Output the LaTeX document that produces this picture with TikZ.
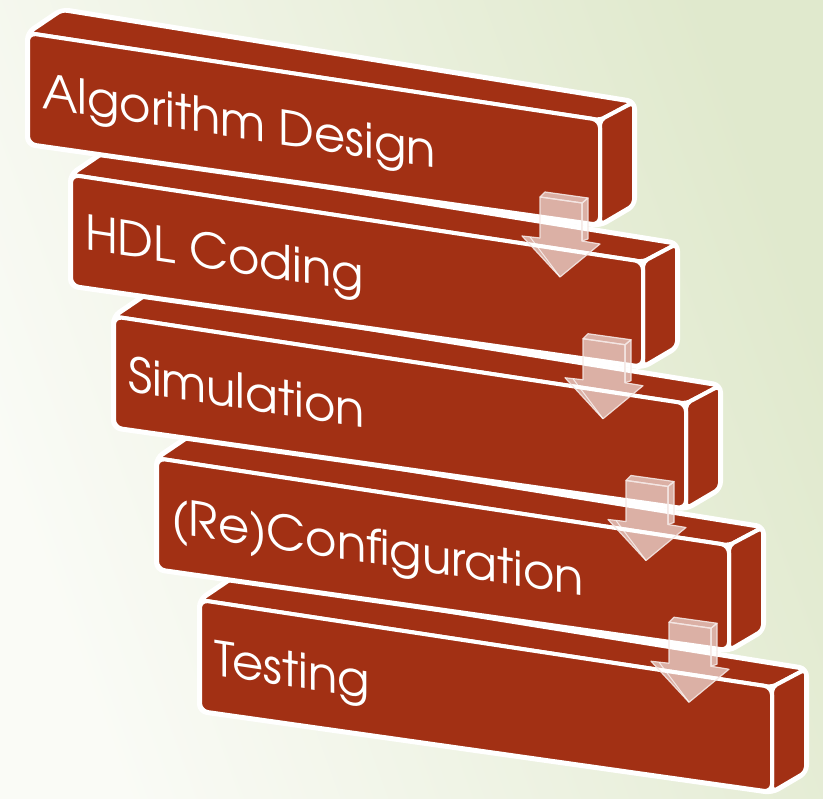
\documentclass[tikz,border=0pt]{standalone}
\usepackage{fontspec}
\setmainfont{TeX Gyre Adventor}
\definecolor{brick}{RGB}{162,48,20}
\definecolor{bgL}{RGB}{250,251,246}
\definecolor{bgR}{RGB}{224,233,205}
\begin{document}
\begin{tikzpicture}[x=1pt,y=-1pt,
  face/.style={fill=brick, draw=white, line width=4pt, rounded corners=5pt, line join=round},
  hull/.style={fill=white, draw=white, line width=6pt, rounded corners=7pt, line join=round},
  steplabel/.style={text=white, font=\fontsize{48}{52}\selectfont, anchor=base west, inner sep=0pt, transform shape},
  flowarrow/.style={fill=white, fill opacity=0.62, draw=white!88!brick, draw opacity=0.9, line width=1.2pt, line join=round}]

\useasboundingbox (0,0) rectangle (823,799);
\shade[left color=bgL, right color=bgR, shading angle=110] (0,0) rectangle (823,799);

% the five 3D blocks, lowest first so each upper block overlaps the next
\foreach \i/\txt in {4/Testing,3/{(Re)Configuration},2/Simulation,1/{HDL Coding},0/{Algorithm Design}}{
  \begin{scope}[shift={(28+43*\i,33+141.75*\i)}]
    \coordinate (f1-\i) at (0,0);
    \coordinate (f2-\i) at (572,87);
    \coordinate (f3-\i) at (572,192);
    \coordinate (f4-\i) at (0,111);
    \coordinate (b1-\i) at (34,-23);
    \coordinate (b2-\i) at (606,69);
    \coordinate (b3-\i) at (606,172);
    \draw[hull] (f1-\i) -- (b1-\i) -- (b2-\i) -- (b3-\i) -- (f3-\i) -- (f4-\i) -- cycle;
    \draw[face] (f1-\i) -- (b1-\i) -- (b2-\i) -- (f2-\i) -- cycle;
    \draw[face] (f2-\i) -- (b2-\i) -- (b3-\i) -- (f3-\i) -- cycle;
    \draw[face, rounded corners=8pt] (f1-\i) -- (f2-\i) -- (f3-\i) -- (f4-\i) -- cycle;
    \begin{scope}[shift={(14,75)}, yslant=-0.152]
      \node[steplabel] (label\i) at (0,0) {\txt};
    \end{scope}
  \end{scope}
}

% translucent 3D arrows between consecutive blocks
\foreach \i in {0,1,2,3}{
  \begin{scope}[shift={(28+43*\i,33+141.75*\i)}]
    \draw[flowarrow] (512,164) -- (554,170) -- (554,208) -- (572,211) -- (532,244) -- (494,203) -- (512,205) -- cycle;
    \draw[flowarrow] (512,164) -- (517,159) -- (560,165) -- (554,170) -- cycle;
    \draw[flowarrow] (554,170) -- (560,165) -- (560,206) -- (554,208) -- cycle;
    \draw[white, opacity=0.7, line width=1pt] (502,204) -- (532,244);
  \end{scope}
}
\end{tikzpicture}
\end{document}
